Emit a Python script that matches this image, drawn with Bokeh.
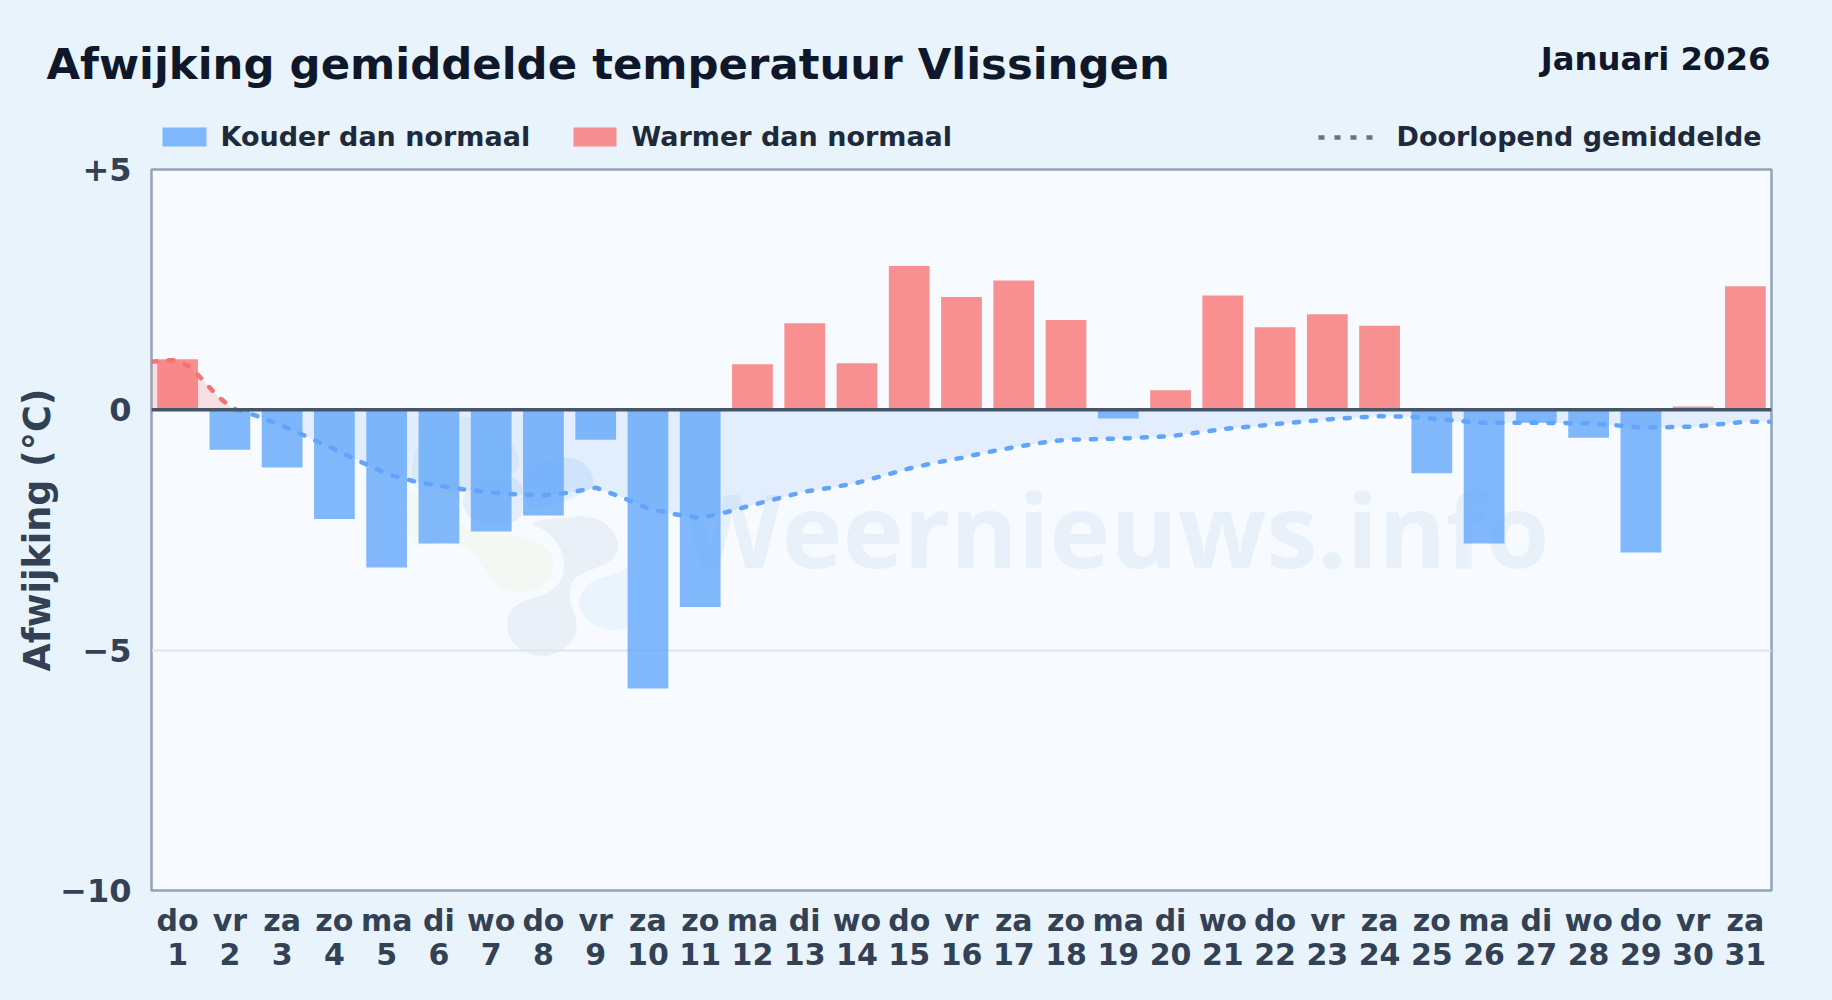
from bokeh.plotting import figure
from bokeh.embed import file_html
from bokeh.resources import INLINE
from bokeh.models import Range1d, FixedTicker, Span
from bokeh.core.properties import value

TITLE = "Afwijking gemiddelde temperatuur Vlissingen"
PERIOD = "Januari 2026"
WEEKDAYS = ["do","vr","za","zo","ma","di","wo","do","vr","za","zo","ma","di","wo","do","vr","za","zo","ma","di","wo","do","vr","za","zo","ma","di","wo","do","vr","za"]
DAYS = list(range(1, 32))
ANOMALY = [1.05,-0.83,-1.2,-2.27,-3.28,-2.78,-2.53,-2.2,-0.62,-5.8,-4.1,0.95,1.8,0.97,2.99,2.35,2.69,1.87,-0.18,0.41,2.38,1.72,1.99,1.75,-1.32,-2.78,-0.27,-0.58,-2.97,0.07,2.57]
RUN_X_POS = [0.5, 0.8, 1.0, 1.25, 1.5, 1.75, 2.0, 2.12]
RUN_Y_POS = [1.0, 1.03, 1.03, 0.88, 0.6, 0.3, 0.07, 0.0]
RUN_X_NEG = [2.12, 2.5, 3, 3.5, 4, 4.5, 5, 5.5, 6, 6.5, 7, 7.5, 8, 8.5, 9, 9.5, 10, 10.5, 11, 11.5, 12, 12.5, 13, 13.5, 14, 14.5, 15, 15.5, 16, 16.5, 17, 17.5, 18, 18.5, 19, 20, 21, 22, 23, 24, 24.5, 25, 25.5, 26, 27, 28, 28.5, 29, 30, 30.5, 31, 31.5]
RUN_Y_NEG = [0.0, -0.12, -0.33, -0.57, -0.82, -1.08, -1.33, -1.48, -1.58, -1.66, -1.72, -1.76, -1.78, -1.72, -1.62, -1.82, -2.05, -2.17, -2.25, -2.13, -1.98, -1.84, -1.70, -1.62, -1.52, -1.37, -1.22, -1.10, -1.0, -0.88, -0.78, -0.69, -0.62, -0.61, -0.6, -0.55, -0.4, -0.3, -0.2, -0.13, -0.14, -0.18, -0.23, -0.27, -0.27, -0.28, -0.32, -0.37, -0.35, -0.3, -0.25, -0.25]
Y_TICKS = {5: "+5", 0: "0", -5: "\u22125", -10: "\u221210"}

BG = "#e9f3fc"
FRAME_BG = "#f7fbff"
BLUE = "#60a5fa"
RED = "#f87171"
SANS = "DejaVu Sans"
OFF_L, OFF_T, FW, FH = 151, 169, 1620, 721
W, H = 1816, 990

p = figure(width=W, height=H, output_backend="svg", toolbar_location=None,
           x_range=Range1d(0.5, 31.5), y_range=Range1d(-10, 5),
           min_border_left=OFF_L, min_border_top=OFF_T,
           min_border_right=W - OFF_L - FW, min_border_bottom=H - OFF_T - FH,
           background_fill_color=FRAME_BG, border_fill_color=BG, outline_line_color="#94a3b8", outline_line_width=2.5)

def dx(px):
    return 0.5 + (px - OFF_L) / FW * 31

def dy(py):
    return 5 - (py - OFF_T) / FH * 15

def smooth(points, rounds=3):
    pts = points
    for _ in range(rounds):
        out = []
        for i, (x0, y0) in enumerate(pts):
            x1, y1 = pts[(i + 1) % len(pts)]
            out += [(0.75*x0 + 0.25*x1, 0.75*y0 + 0.25*y1), (0.25*x0 + 0.75*x1, 0.25*y0 + 0.75*y1)]
        pts = out
    return pts

def blob(points, color, origin=(360, 410)):
    pts = smooth(points)
    xs = [dx(origin[0] + a / 3) for a, _ in pts]
    ys = [dy(origin[1] + b / 3) for _, b in pts]
    p.patch(xs, ys, fill_color=color, line_color=None, level="underlay")

# grid / axes
p.xgrid.visible = False
p.ygrid.ticker = FixedTicker(ticks=[-5])
p.ygrid.grid_line_color = "#dfe6ee"
p.ygrid.grid_line_width = 2

p.yaxis.ticker = FixedTicker(ticks=list(Y_TICKS))
p.yaxis.major_label_overrides = Y_TICKS
p.yaxis.axis_label = "Afwijking (\u00b0C)"
p.yaxis.axis_label_text_font = SANS
p.yaxis.axis_label_text_font_style = "bold"
p.yaxis.axis_label_text_font_size = "36.5px"
p.yaxis.axis_label_text_color = "#334155"
p.yaxis.axis_label_standoff = -2
p.yaxis.major_label_standoff = 20
p.yaxis.major_label_text_font = SANS
p.yaxis.major_label_text_font_style = "bold"
p.yaxis.major_label_text_font_size = "32px"
p.yaxis.major_label_text_color = "#334155"

p.xaxis.ticker = FixedTicker(ticks=DAYS)
p.xaxis.major_label_overrides = {d: f"{w}\n{d}" for d, w in zip(DAYS, WEEKDAYS)}
p.xaxis.major_label_standoff = 12
p.xaxis.major_label_text_font = SANS
p.xaxis.major_label_text_font_style = "bold"
p.xaxis.major_label_text_font_size = "30px"
p.xaxis.major_label_text_color = "#334155"
p.xaxis.major_label_text_line_height = 0.985

for ax in (p.xaxis, p.yaxis):
    ax.axis_line_color = None
    ax.major_tick_line_color = None
    ax.minor_tick_line_color = None
    ax.major_tick_out = 0
    ax.major_tick_in = 0
    ax.minor_tick_out = 0
    ax.minor_tick_in = 0

BASELINE_SHIFT = 0.36  # of the font size: where Bokeh's SVG text puts the alphabetic baseline

# watermark
blob([(200,60),(330,0),(470,100),(480,195),(350,210),(300,250),(220,260),(150,230),(160,120)], "#eaf3f5")
blob([(305,260),(340,215),(430,195),(485,210),(490,300),(470,335),(400,345),(340,335),(310,300)], "#e4eefa")
blob([(150,235),(200,265),(300,340),(340,365),(450,370),(530,390),(575,430),(583,470),(560,520),(510,545),(460,550),(410,525),(375,480),(340,430),(300,400),(230,395),(160,410),(142,370),(140,300)], "#f3f8f4")
blob([(620,322),(680,315),(735,335),(770,380),(775,420),(750,455),(700,475),(650,495),(625,530),(630,580),(652,640),(640,690),(600,725),(545,740),(490,725),(450,690),(436,640),(450,595),(490,570),(550,555),(600,520),(614,460),(600,410),(560,360),(500,338),(560,325)], "#e9f0f8")
blob([(655,560),(690,510),(770,490),(810,465),(880,520),(870,620),(800,655),(750,662),(690,640),(655,600)], "#e9f4fd")
blob([(490,170),(560,145),(630,138),(685,165),(705,230),(650,255),(560,295),(490,295)], "#e0eefd")

p.text([dx(1549)], [dy(565 - BASELINE_SHIFT * 103)], text=["Weernieuws.info"], text_font=value("Open Sans"), text_font_style="bold",
       text_font_size="103px", text_color="#e8f1f9", text_align="right", text_baseline="alphabetic", level="underlay")

# running mean shaded area
p.varea(x=RUN_X_POS, y1=RUN_Y_POS, y2=[0]*len(RUN_X_POS), fill_color=RED, fill_alpha=0.2)
p.varea(x=RUN_X_NEG, y1=RUN_Y_NEG, y2=[0]*len(RUN_X_NEG), fill_color=BLUE, fill_alpha=0.14)

# bars
colors = [RED if v >= 0 else BLUE for v in ANOMALY]
p.vbar(x=DAYS, bottom=0, top=ANOMALY, width=0.78, fill_color=colors, fill_alpha=0.78, line_color=None)

# zero line
p.add_layout(Span(location=0, dimension="width", line_color="#475569", line_width=3.5))

# running mean line
p.line(RUN_X_POS, RUN_Y_POS, line_color=RED, line_width=4.5, line_dash="5 12", line_cap="round")
p.line(RUN_X_NEG, RUN_Y_NEG, line_color=BLUE, line_width=4.5, line_dash="5 12", line_cap="round")

# title & legend (outside the frame)
def label(px, py, text, size, color, align="left"):
    p.text([dx(px)], [dy(py - BASELINE_SHIFT * size)], text=[text], text_font=value(SANS), text_font_style="bold",
           text_font_size=f"{size}px", text_color=color, text_align=align, text_baseline="alphabetic", level="overlay")

label(46, 79, TITLE, 43.4, "#0f172a")
label(1770, 70.5, PERIOD, 32.3, "#0f172a", "right")
label(220, 146, "Kouder dan normaal", 27, "#1e293b")
label(631, 146, "Warmer dan normaal", 27, "#1e293b")
label(1396, 146, "Doorlopend gemiddelde", 27, "#1e293b")

p.quad(left=[dx(162)], right=[dx(206)], top=[dy(127)], bottom=[dy(146)], fill_color=BLUE, fill_alpha=0.78, line_color=None, level="overlay")
p.quad(left=[dx(573)], right=[dx(616)], top=[dy(127)], bottom=[dy(146)], fill_color=RED, fill_alpha=0.78, line_color=None, level="overlay")
p.line([dx(1318), dx(1374)], [dy(137), dy(137)], line_color="#64748b", line_width=4.5, line_dash="6 10", level="overlay")

html = file_html(p, INLINE)
html = html.replace("</head>", f"<style>html,body{{background:{BG};overflow:hidden}}</style></head>", 1)
open("out.html", "w").write(html)
